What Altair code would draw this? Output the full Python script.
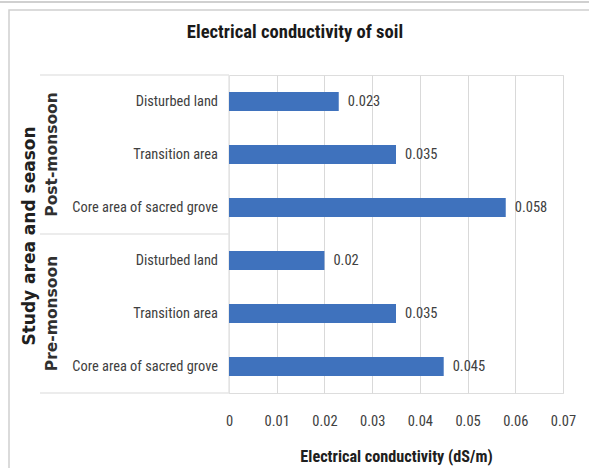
import altair as alt
import pandas as pd

seasons = ["Post-monsoon", "Post-monsoon", "Post-monsoon", "Pre-monsoon", "Pre-monsoon", "Pre-monsoon"]
areas = ["Disturbed land", "Transition area", "Core area of sacred grove",
         "Disturbed land", "Transition area", "Core area of sacred grove"]
values = [0.023, 0.035, 0.058, 0.02, 0.035, 0.045]
value_labels = ["0.023", "0.035", "0.058", "0.02", "0.035", "0.045"]
tick_values = [0, 0.01, 0.02, 0.03, 0.04, 0.05, 0.06, 0.07]

keys = [s + "|" + a for s, a in zip(seasons, areas)]
df = pd.DataFrame({"key": keys, "season": seasons, "area": areas,
                   "value": values, "label": value_labels})
groups = pd.DataFrame({"key": [keys[1], keys[4]], "season": ["Post-monsoon", "Pre-monsoon"]})

FONT = "Roboto Condensed"
BOLD_FONT = "DejaVu Sans"
W, H = 334, 318

yscale = alt.Scale(domain=keys, paddingInner=0.64, paddingOuter=0.32)
y = alt.Y("key:N", scale=yscale, axis=None, sort=keys)
x = alt.X("value:Q",
          scale=alt.Scale(domain=[0, 0.07], nice=False),
          axis=alt.Axis(values=tick_values,
                        labelExpr="datum.value == 0 ? '0' : format(datum.value, '.2f')",
                        title="Electrical conductivity (dS/m)", grid=True, gridColor="#d9d9d9",
                        domain=False, ticks=False, labelPadding=28, labelBaseline="middle",
                        labelFlush=False,
                        labelFont=FONT, labelFontSize=14.5, labelColor="#404040",
                        titleFont=FONT, titleFontSize=16.2, titleFontWeight="bold",
                        titleColor="#202020", titleBaseline="alphabetic", titleY=68))

base = alt.Chart(df)

bars = base.mark_bar(color="#3f72bd").encode(x=x, y=y)
vals = base.mark_text(align="left", dx=9, font=FONT, fontSize=14.5, color="#404040").encode(
    x="value:Q", y=y, text="label:N")
cats = base.mark_text(align="right", font=FONT, fontSize=14.4, color="#404040").encode(
    x=alt.value(-11), y=y, text="area:N")
grp = alt.Chart(groups).mark_text(angle=270, font=BOLD_FONT, fontSize=15.5, fontWeight="bold",
                                   color="#303030", baseline="middle").encode(
    x=alt.value(-177), y=y, text="season:N")

misc = pd.DataFrame({"t": ["Study area and season"], "title": ["Electrical conductivity of soil"]})
ytitle = alt.Chart(misc).mark_text(angle=270, font=BOLD_FONT, fontSize=17, fontWeight="bold",
                                   color="#202020", baseline="middle").encode(
    x=alt.value(-199), y=alt.value(161), text="t:N")
ctitle = alt.Chart(misc).mark_text(font=FONT, fontSize=18.6, fontWeight="bold", color="#1a1a1a",
                                   baseline="alphabetic", align="center").encode(
    x=alt.value(66), y=alt.value(-37), text="title:N")

line_col = "#e6e6e6"
h1 = alt.Chart(misc).mark_rule(color=line_col, strokeWidth=1.5).encode(
    x=alt.value(-189), x2=alt.value(0), y=alt.value(0))
h2 = alt.Chart(misc).mark_rule(color=line_col, strokeWidth=1.5).encode(
    x=alt.value(-189), x2=alt.value(0), y=alt.value(159))
h3 = alt.Chart(misc).mark_rule(color=line_col, strokeWidth=1.5).encode(
    x=alt.value(-189), x2=alt.value(0), y=alt.value(318))
vline = alt.Chart(misc).mark_rule(color=line_col, strokeWidth=1.5).encode(
    x=alt.value(0), y=alt.value(0), y2=alt.value(318))
border = alt.Chart(misc).mark_rect(fill=None, stroke="#d0d0d0", strokeWidth=1.5).encode(
    x=alt.value(-220), x2=alt.value(400), y=alt.value(-65), y2=alt.value(420))
topline = alt.Chart(misc).mark_rule(color="#d0d0d0", strokeWidth=2).encode(
    x=alt.value(-240), x2=alt.value(400), y=alt.value(-73))

chart = alt.layer(border, topline, h1, h2, h3, vline, bars, vals, cats, grp, ytitle, ctitle).properties(
    width=W, height=H,
    autosize=alt.AutoSizeParams(type="none"),
    padding={"left": 229, "top": 75, "right": 26, "bottom": 75},
).configure_view(stroke=None).configure(background="white")

chart.save("out.html", embed_options={"renderer": "svg", "actions": False})
